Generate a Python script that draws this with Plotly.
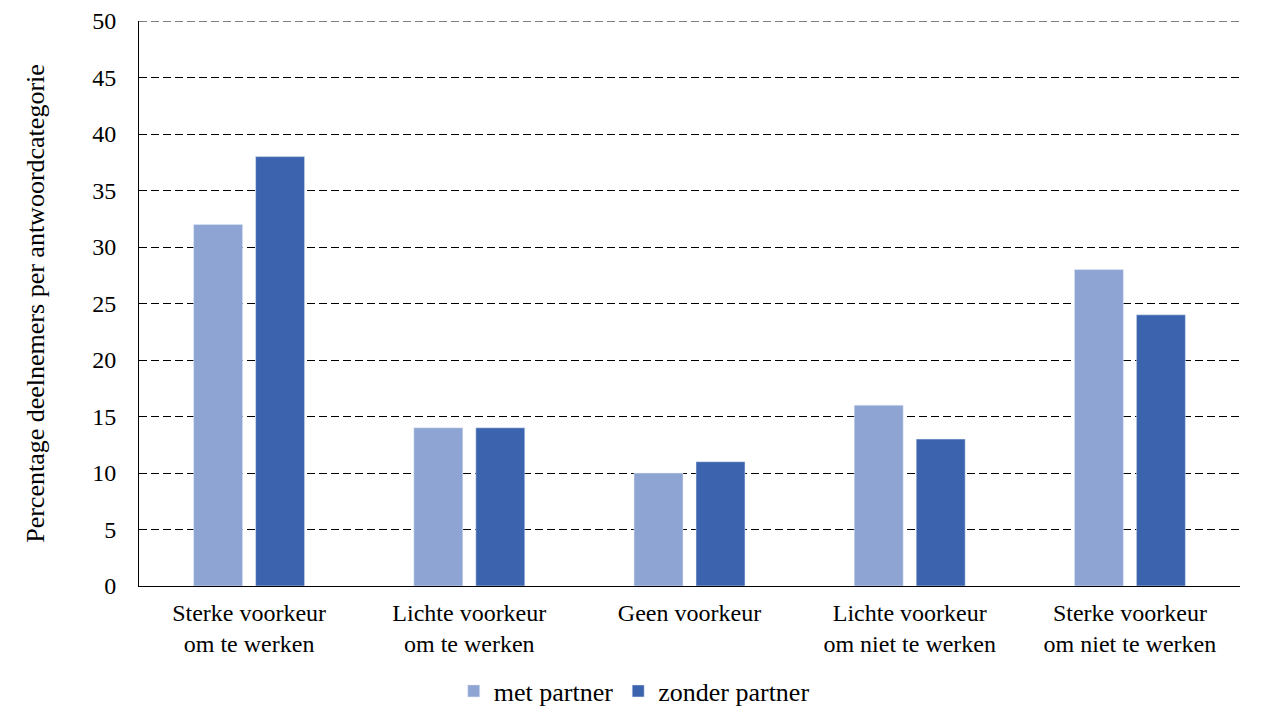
import plotly.graph_objects as go

categories = ["Sterke voorkeur<br>om te werken", "Lichte voorkeur<br>om te werken", "Geen voorkeur",
              "Lichte voorkeur<br>om niet te werken", "Sterke voorkeur<br>om niet te werken"]
met_partner = [32, 14, 10, 16, 28]
zonder_partner = [38, 14, 11, 13, 24]
y_ticks = [0, 5, 10, 15, 20, 25, 30, 35, 40, 45, 50]

FONT = "Liberation Serif"
DASH = "8px,4px"

fig = go.Figure()
fig.add_trace(go.Bar(x=categories, y=met_partner, name="met partner", marker_color="#8EA4D3"))
fig.add_trace(go.Bar(x=categories, y=zonder_partner, name="zonder partner", marker_color="#3C64AE"))

# page body has an 8px margin; figure is sized/margined so the plot area lands where the reference has it
fig.update_layout(
    width=1255, height=713,
    margin=dict(l=131, r=23, t=13, b=135, autoexpand=False),
    paper_bgcolor="white", plot_bgcolor="white",
    font=dict(family=FONT, size=24, color="black"),
    barmode="group", bargap=0.437, bargroupgap=0.21,
    showlegend=True,
    legend=dict(orientation="h", xref="container", x=0.499, xanchor="center", yref="container", y=0.042,
                yanchor="middle", font=dict(family=FONT, size=26), itemwidth=30, traceorder="normal"),
)
# top gridline (at the range edge plotly would hide it)
fig.add_shape(type="line", xref="paper", x0=0, x1=1, yref="y", y0=y_ticks[-1], y1=y_ticks[-1],
              line=dict(color="black", width=1, dash=DASH), layer="below")
fig.update_yaxes(range=[y_ticks[0], y_ticks[-1]], tickvals=y_ticks, showgrid=True, gridcolor="black", gridwidth=1,
                 griddash=DASH, showline=True, linecolor="black", linewidth=1, zeroline=False,
                 ticks="", ticklabelstandoff=17, tickfont=dict(family=FONT, size=24), automargin=False,
                 title=dict(text="Percentage deelnemers per antwoordcategorie", font=dict(family=FONT, size=26),
                            standoff=40))
fig.update_xaxes(showline=True, linecolor="black", linewidth=1, ticks="", tickfont=dict(family=FONT, size=24),
                 ticklabelstandoff=5, automargin=False)

fig.write_html("out.html")
